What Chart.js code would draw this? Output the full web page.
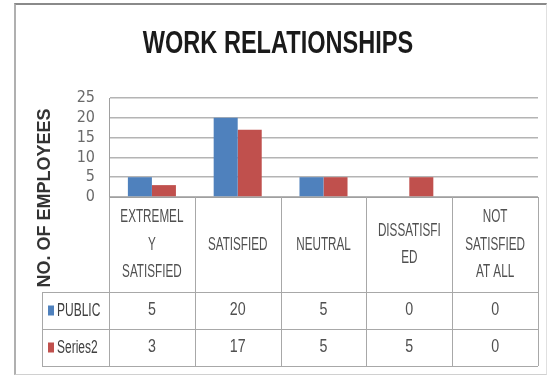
<!DOCTYPE html>
<html>
<head>
<meta charset="utf-8">
<script src="https://cdn.jsdelivr.net/npm/chart.js@4"></script>
<style>
  html, body { margin: 0; padding: 0; background: #fff; }
  #frame {
    position: absolute; left: 14px; top: 3px; width: 530px; height: 369px;
    border-top: 2px solid #8a8a8a; border-left: 2px solid #b0b0b0;
    border-right: 1px solid #e0e0e0; border-bottom: 1px solid #d0d0d0;
  }
  #chart { position: absolute; left: 0; top: 0; }
</style>
</head>
<body>
<div id="frame"></div>
<canvas id="chart" width="551" height="375"></canvas>
<script>
const chartTitle = 'WORK RELATIONSHIPS';
const yTitle = 'NO. OF EMPLOYEES';
const categories = [
  ['EXTREMEL', 'Y', 'SATISFIED'],
  ['SATISFIED'],
  ['NEUTRAL'],
  ['DISSATISFI', 'ED'],
  ['NOT', 'SATISFIED', 'AT ALL']
];
const publicValues = [5, 20, 5, 0, 0];
const series2Values = [3, 17, 5, 5, 0];
const seriesNames = ['PUBLIC', 'Series2'];
const yTicks = [0, 5, 10, 15, 20, 25];

const SANS = '"Liberation Sans", Arial, sans-serif';
const BLUE = '#4F81BD';
const RED = '#C0504D';

// draws text squeezed sideways / stretched upward, to get a narrow face
function fitText(ctx, text, x, y, sx, sy) {
  ctx.save();
  ctx.translate(x, y);
  ctx.scale(sx, sy);
  ctx.fillText(text, 0, 0);
  ctx.restore();
}

// title, axis title and data table under the plot (columns follow the x scale)
const dataTable = {
  id: 'dataTable',
  afterDraw(chart) {
    const ctx = chart.ctx;
    const x = chart.scales.x;
    const area = chart.chartArea;
    const n = chart.data.labels.length;
    const catW = (x.right - x.left) / n;
    const top = area.bottom;
    const catBottom = top + 95;
    const rowH = 37;
    const bottom = catBottom + rowH * 2;
    const legendLeft = 42;

    ctx.save();
    ctx.textBaseline = 'middle';

    ctx.textAlign = 'center';
    ctx.fillStyle = '#1a1a1a';
    ctx.font = 'bold 31px ' + SANS;
    fitText(ctx, chartTitle, 278, 44, 0.76, 1.04);

    ctx.strokeStyle = '#a8a8a8';
    ctx.lineWidth = 1;
    ctx.beginPath();
    for (let i = 0; i <= n; i++) {
      const px = Math.round(x.left + i * catW) + 0.5;
      ctx.moveTo(px, top);
      ctx.lineTo(px, bottom);
    }
    [catBottom, catBottom + rowH, bottom].forEach(py => {
      ctx.moveTo(legendLeft, py + 0.5);
      ctx.lineTo(x.right, py + 0.5);
    });
    ctx.moveTo(legendLeft + 0.5, catBottom);
    ctx.lineTo(legendLeft + 0.5, bottom);
    ctx.stroke();

    // category headers
    ctx.fillStyle = '#505050';
    ctx.font = '15px ' + SANS;
    chart.data.labels.forEach((lines, i) => {
      const cx = x.left + (i + 0.5) * catW;
      const cy = (top + catBottom) / 2;
      const step = 27.5;
      lines.forEach((t, j) => {
        fitText(ctx, t, cx, cy + (j - (lines.length - 1) / 2) * step, 0.78, 1.25);
      });
    });

    // value rows with legend keys
    chart.data.datasets.forEach((ds, r) => {
      const cy = catBottom + rowH * (r + 0.5);
      ctx.font = '15px ' + SANS;
      ctx.textAlign = 'center';
      ctx.fillStyle = '#505050';
      ds.data.forEach((v, i) => {
        fitText(ctx, String(v), x.left + (i + 0.5) * catW, cy, 0.95, 1.2);
      });
      ctx.fillStyle = ds.backgroundColor;
      ctx.fillRect(48, cy - 5, 6, 10);
      ctx.fillStyle = '#404040';
      ctx.textAlign = 'left';
      fitText(ctx, ds.label, 57, cy, 0.8, 1.25);
    });

    // vertical axis title, centred on plot plus table
    ctx.translate(45, 198);
    ctx.rotate(-Math.PI / 2);
    ctx.textAlign = 'center';
    ctx.fillStyle = '#333';
    ctx.font = 'bold 18px ' + SANS;
    ctx.fillText(yTitle, 0, 0);
    ctx.restore();
  }
};

new Chart(document.getElementById('chart'), {
  type: 'bar',
  data: {
    labels: categories,
    datasets: [
      { label: seriesNames[0], data: publicValues, backgroundColor: BLUE },
      { label: seriesNames[1], data: series2Values, backgroundColor: RED }
    ]
  },
  options: {
    responsive: false,
    animation: false,
    categoryPercentage: 0.56,
    barPercentage: 1.0,
    layout: { padding: { left: 18, right: 13, top: 98, bottom: 9 } },
    scales: {
      x: {
        afterFit: scale => { scale.height = 169; },
        ticks: { display: false },
        grid: { display: false },
        border: { display: true, color: '#a0a0a0', width: 1 }
      },
      y: {
        min: 0,
        max: 25,
        afterFit: scale => { scale.width = 91; },
        afterBuildTicks: scale => { scale.ticks = yTicks.map(v => ({ value: v })); },
        ticks: {
          autoSkip: false,
          padding: 14,
          color: '#6a6a6a',
          font: { family: '"DejaVu Sans Condensed", sans-serif', size: 16, lineHeight: 1 }
        },
        grid: { color: '#b4b4b4', lineWidth: 1.5, drawTicks: false },
        border: { display: true, color: '#a0a0a0', width: 1 }
      }
    },
    plugins: {
      legend: { display: false },
      tooltip: { enabled: false },
      title: { display: false }
    }
  },
  plugins: [dataTable]
});
</script>
</body>
</html>
